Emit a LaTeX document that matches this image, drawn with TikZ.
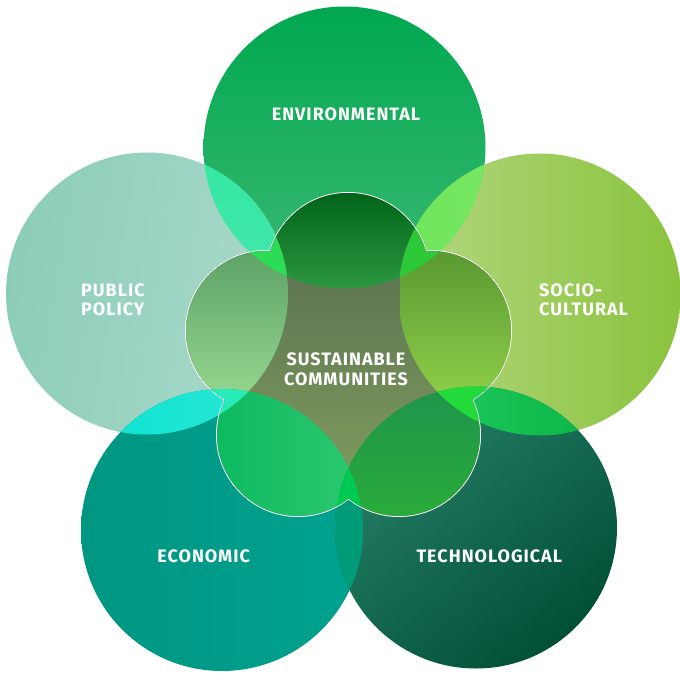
\documentclass[tikz,border=0pt]{standalone}
\usepackage{fontspec}
\newfontfamily\labelfont{Fira Sans}[LetterSpace=5.5]
\begin{document}
\begin{tikzpicture}[x=1pt,y=-1pt,
  lbl/.style={text=white,inner sep=0pt,font=\labelfont\bfseries\fontsize{18}{20}\selectfont},
  petal/.style={white,line width=2pt}]
\useasboundingbox (0,0) rectangle (680,672);
% big circle centres
\coordinate (E) at (344.5,147.5);
\coordinate (P) at (147,293.5);
\coordinate (S) at (539.5,294.5);
\coordinate (C) at (222,530);
\coordinate (T) at (476,527.5);
% flower circle centres
\coordinate (fT) at (348,274);
\coordinate (fL) at (266,331);
\coordinate (fR) at (431,331);
\coordinate (fBL) at (298,435);
\coordinate (fBR) at (399,435);
\coordinate (fM) at (348,362);
\def\R{141}
% colours
\definecolor{envtop}{RGB}{0,168,80}
\definecolor{envbot}{RGB}{60,185,115}
\definecolor{ppl}{RGB}{140,205,185}
\definecolor{ppr}{RGB}{170,217,202}
\definecolor{scl}{RGB}{180,215,130}
\definecolor{scr}{RGB}{138,195,60}
\definecolor{ecol}{RGB}{0,150,130}
\definecolor{ecor}{RGB}{0,162,144}
\definecolor{techa}{RGB}{40,128,104}
\definecolor{techb}{RGB}{0,80,55}
\definecolor{lEP}{RGB}{50,232,160}
\definecolor{lEPb}{RGB}{92,228,190}
\definecolor{lES}{RGB}{110,230,90}
\definecolor{lESb}{RGB}{135,230,115}
\definecolor{lST}{RGB}{35,205,100}
\definecolor{lSTb}{RGB}{0,172,58}
\definecolor{lCT}{RGB}{0,155,120}
\definecolor{lPC}{RGB}{0,225,210}
\definecolor{lPCb}{RGB}{45,232,212}
\definecolor{oltop}{RGB}{82,102,78}
\definecolor{olbot}{RGB}{132,162,95}
\definecolor{fEt}{RGB}{0,98,24}
\definecolor{fEb}{RGB}{45,152,66}
\definecolor{fPt}{RGB}{92,162,102}
\definecolor{fPb}{RGB}{162,226,152}
\definecolor{fSt}{RGB}{88,152,50}
\definecolor{fSb}{RGB}{158,222,78}
\definecolor{fCa}{RGB}{12,185,95}
\definecolor{fCb}{RGB}{45,200,112}
\definecolor{fTa}{RGB}{30,148,76}
\definecolor{fTb}{RGB}{42,172,58}
\definecolor{fEP}{RGB}{45,220,85}
\definecolor{fES}{RGB}{45,200,55}
\definecolor{fPC}{RGB}{40,235,185}
\definecolor{fST}{RGB}{35,220,60}
\definecolor{fCT}{RGB}{0,200,80}
% big circles
\shade[top color=envtop,bottom color=envbot] (E) circle (\R);
\shade[left color=ppl,right color=ppr,shading angle=80] (P) circle (\R);
\shade[left color=scl,right color=scr] (S) circle (\R);
\shade[left color=ecol,right color=ecor] (C) circle (\R);
\shade[shading=axis,top color=techa,bottom color=techb,shading angle=40] (T) circle (\R);
% lenses
\begin{scope}\clip (E) circle (\R);
  \shade[top color=lEP,bottom color=lEPb] (P) circle (\R);
  \shade[left color=lES,right color=lESb] (S) circle (\R);
\end{scope}
\begin{scope}\clip (T) circle (\R);
  \shade[left color=lST,right color=lSTb] (S) circle (\R);
  \fill[lCT] (C) circle (\R);
\end{scope}
\begin{scope}\clip (C) circle (\R);
  \shade[left color=lPC,right color=lPCb] (P) circle (\R);
\end{scope}
% flower outline
\foreach \c/\r in {fT/81,fL/80,fR/80,fBL/81,fBR/81}
  \draw[petal] (\c) circle (\r);
% flower interior
\begin{scope}
  \clip (fT) circle (81) (fL) circle (80) (fR) circle (80) (fBL) circle (81) (fBR) circle (81) (fM) circle (60);
  \shade[top color=oltop,bottom color=olbot] (180,190) rectangle (520,520);
  \begin{scope}\clip (E) circle (\R);
    \shade[top color=fEt,bottom color=fEb] (260,190) rectangle (440,290);
  \end{scope}
  \begin{scope}\clip (P) circle (\R);
    \shade[top color=fPt,bottom color=fPb] (180,250) rectangle (300,430);
  \end{scope}
  \begin{scope}\clip (S) circle (\R);
    \shade[top color=fSt,bottom color=fSb] (400,250) rectangle (520,440);
  \end{scope}
  \begin{scope}\clip (C) circle (\R);
    \shade[left color=fCa,right color=fCb] (210,385) rectangle (360,520);
  \end{scope}
  \begin{scope}\clip (T) circle (\R);
    \shade[top color=fTa,bottom color=fTb] (340,385) rectangle (490,520);
  \end{scope}
  \begin{scope}\clip (E) circle (\R); \fill[fEP] (P) circle (\R); \fill[fES] (S) circle (\R); \end{scope}
  \begin{scope}\clip (C) circle (\R); \fill[fPC] (P) circle (\R); \fill[fCT] (T) circle (\R); \end{scope}
  \begin{scope}\clip (T) circle (\R); \fill[fST] (S) circle (\R); \end{scope}
\end{scope}
% labels
\node[lbl] (lenv) at (346,114.3) {ENVIRONMENTAL};
\node[lbl,anchor=west] (lpp1) at (81,290) {PUBLIC};
\node[lbl,anchor=west] (lpp2) at (81,309.7) {POLICY};
\node[lbl,anchor=west] (lsc1) at (539,290) {SOCIO-};
\node[lbl,anchor=west] (lsc2) at (539,309.7) {CULTURAL};
\node[lbl] (lsus1) at (346,359) {SUSTAINABLE};
\node[lbl] (lsus2) at (346,379.7) {COMMUNITIES};
\node[lbl] (leco) at (203.7,556.7) {ECONOMIC};
\node[lbl] (ltech) at (489.3,556.5) {TECHNOLOGICAL};
\end{tikzpicture}
\end{document}
